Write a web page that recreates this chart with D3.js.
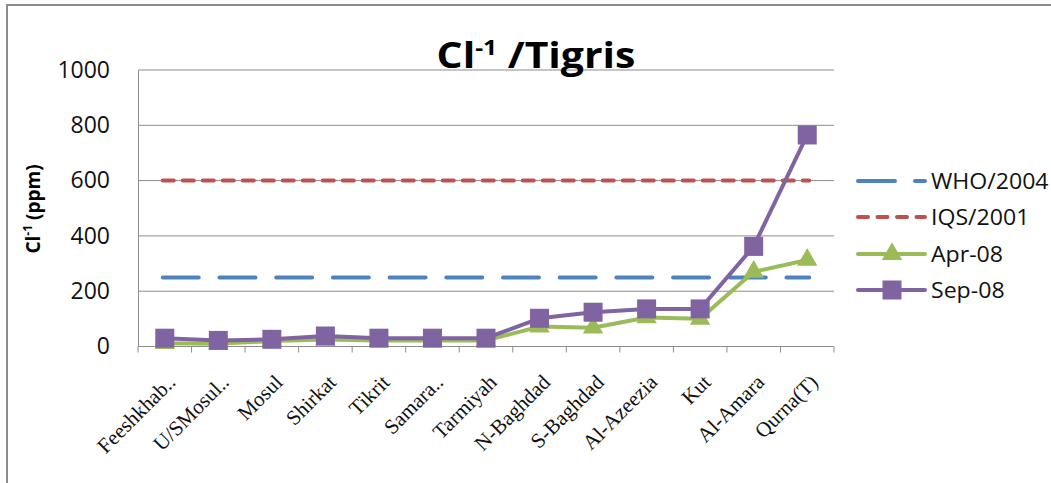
<!DOCTYPE html>
<html>
<head>
<meta charset="utf-8">
<script src="https://cdn.jsdelivr.net/npm/d3@7"></script>
<style>
  html, body { margin: 0; padding: 0; background: #fff; }
  svg { display: block; }
</style>
</head>
<body>
<svg id="chart" width="1051" height="483"></svg>
<script>
// Sampling stations along the Tigris
const stations = ["Feeshkhab..", "U/SMosul..", "Mosul", "Shirkat", "Tikrit", "Samara..",
  "Tarmiyah", "N-Baghdad", "S-Baghdad", "Al-Azeezia", "Kut", "Al-Amara", "Qurna(T)"];

// Chloride concentrations (ppm)
const apr08 = [12, 10, 20, 25, 22, 22, 22, 72, 68, 105, 100, 270, 313];
const sep08 = [30, 22, 26, 38, 30, 30, 30, 102, 124, 136, 136, 362, 765];

// Guideline limits (ppm)
const who2004 = 250;
const iqs2001 = 600;

const yTicks = [0, 200, 400, 600, 800, 1000];

const colors = { who: "#4F81BD", iqs: "#C0504D", apr: "#9BBB59", sep: "#8064A2" };
const sansFont = "Open Sans, sans-serif";

const svg = d3.select("#chart");

// outer chart frame
svg.append("rect")
  .attr("x", 7).attr("y", 5).attr("width", 1100).attr("height", 520)
  .attr("fill", "none").attr("stroke", "#8c8c8c").attr("stroke-width", 2);

const plot = { left: 138, right: 834, top: 70, bottom: 346.5 };

const x = d3.scaleBand().domain(stations).range([plot.left, plot.right]);
const y = d3.scaleLinear().domain([0, 1000]).range([plot.bottom, plot.top]);
const cx = d => x(d) + x.bandwidth() / 2;

// horizontal gridlines
svg.append("g")
  .selectAll("line").data(yTicks.filter(t => t > 0)).join("line")
  .attr("x1", plot.left).attr("x2", plot.right)
  .attr("y1", d => y(d)).attr("y2", d => y(d))
  .attr("stroke", "#8c8c8c").attr("stroke-width", 1);

// y axis
const yAxis = svg.append("g")
  .attr("transform", `translate(${plot.left},0)`)
  .call(d3.axisLeft(y).tickValues(yTicks).tickFormat(d3.format("d")).tickSize(0).tickPadding(28));
yAxis.select(".domain").attr("stroke", "#8c8c8c");
yAxis.selectAll("text")
  .attr("font-family", sansFont).attr("font-size", 23).attr("fill", "#111");

// x axis with ticks at band boundaries
const xAxisG = svg.append("g").attr("transform", `translate(0,${plot.bottom})`);
xAxisG.append("line")
  .attr("x1", plot.left).attr("x2", plot.right)
  .attr("stroke", "#8c8c8c").attr("stroke-width", 1);
const bounds = stations.map(s => x(s)).concat([plot.right]);
xAxisG.selectAll("line.tick").data(bounds).join("line")
  .attr("class", "tick")
  .attr("x1", d => d).attr("x2", d => d).attr("y1", 0).attr("y2", 6)
  .attr("stroke", "#8c8c8c");
xAxisG.selectAll("text").data(stations).join("text")
  .attr("transform", d => `translate(${cx(d) + 12},${37}) rotate(-45)`)
  .attr("text-anchor", "end")
  .attr("font-family", "Liberation Serif, serif").attr("font-size", 21).attr("fill", "#111")
  .text(d => d);

// guideline lines
const x0 = cx(stations[0]) - 2, x1 = cx(stations[stations.length - 1]) + 2;
svg.append("line")
  .attr("x1", x0).attr("x2", x1).attr("y1", y(who2004)).attr("y2", y(who2004))
  .attr("stroke", colors.who).attr("stroke-width", 4).attr("stroke-linecap", "round")
  .attr("stroke-dasharray", "36 20.7");
svg.append("line")
  .attr("x1", x0).attr("x2", x1).attr("y1", y(iqs2001)).attr("y2", y(iqs2001))
  .attr("stroke", colors.iqs).attr("stroke-width", 4).attr("stroke-linecap", "round")
  .attr("stroke-dasharray", "11 9");

const line = d3.line().x((d, i) => cx(stations[i])).y(d => y(d));

// Apr-08 series
svg.append("path").datum(apr08)
  .attr("d", line).attr("fill", "none")
  .attr("stroke", colors.apr).attr("stroke-width", 4).attr("stroke-linejoin", "round");
const tri = d3.symbol().type(d3.symbolTriangle).size(180);
svg.append("g").selectAll("path").data(apr08).join("path")
  .attr("d", tri)
  .attr("transform", (d, i) => `translate(${cx(stations[i])},${y(d)})`)
  .attr("fill", colors.apr);

// Sep-08 series
const sq = 19;
svg.append("path").datum(sep08)
  .attr("d", line).attr("fill", "none")
  .attr("stroke", colors.sep).attr("stroke-width", 4).attr("stroke-linejoin", "round");
svg.append("g").selectAll("rect").data(sep08).join("rect")
  .attr("x", (d, i) => cx(stations[i]) - sq / 2)
  .attr("y", d => y(d) - sq / 2)
  .attr("width", sq).attr("height", sq)
  .attr("fill", colors.sep);

// title
const title = svg.append("g").attr("transform", "translate(536,68) scale(1.17,1)")
  .append("text")
  .attr("x", 0).attr("y", 0).attr("text-anchor", "middle")
  .attr("font-family", sansFont).attr("font-weight", "bold")
  .attr("font-size", 35).attr("fill", "#000");
title.append("tspan").text("Cl");
title.append("tspan").attr("font-size", 21).attr("dy", -13).text("-1");
title.append("tspan").attr("dy", 13).text(" /Tigris");

// y axis title
const yt = svg.append("text")
  .attr("transform", "translate(40,209) rotate(-90)")
  .attr("text-anchor", "middle")
  .attr("font-family", sansFont).attr("font-weight", "bold")
  .attr("font-size", 19).attr("fill", "#000");
yt.append("tspan").text("Cl");
yt.append("tspan").attr("font-size", 12).attr("dy", -8).text("-1");
yt.append("tspan").attr("dy", 8).text(" (ppm)");

// legend
const legend = [
  { name: "WHO/2004", key: "who", dash: "37 20", marker: null },
  { name: "IQS/2001", key: "iqs", dash: "10 9.5", marker: null },
  { name: "Apr-08", key: "apr", dash: null, marker: "tri" },
  { name: "Sep-08", key: "sep", dash: null, marker: "sq" }
];
const legendY = [181, 217, 254, 290];
const lg = svg.append("g").selectAll("g").data(legend).join("g")
  .attr("transform", (d, i) => `translate(0,${legendY[i]})`);
lg.append("line")
  .attr("x1", 858).attr("x2", 925).attr("y1", 0).attr("y2", 0)
  .attr("stroke", d => colors[d.key]).attr("stroke-width", 4)
  .attr("stroke-linecap", "round")
  .attr("stroke-dasharray", d => d.dash);
lg.filter(d => d.marker === "tri").append("path")
  .attr("d", tri).attr("transform", "translate(892,0)").attr("fill", colors.apr);
lg.filter(d => d.marker === "sq").append("rect")
  .attr("x", 892 - sq / 2).attr("y", -sq / 2).attr("width", sq).attr("height", sq).attr("fill", colors.sep);
lg.append("g").attr("transform", "translate(931,0) scale(1.1,1)")
  .append("text")
  .attr("x", 0).attr("y", 0).attr("dy", "0.36em")
  .attr("font-family", sansFont).attr("font-size", 21).attr("fill", "#111")
  .text(d => d.name);
</script>
</body>
</html>
